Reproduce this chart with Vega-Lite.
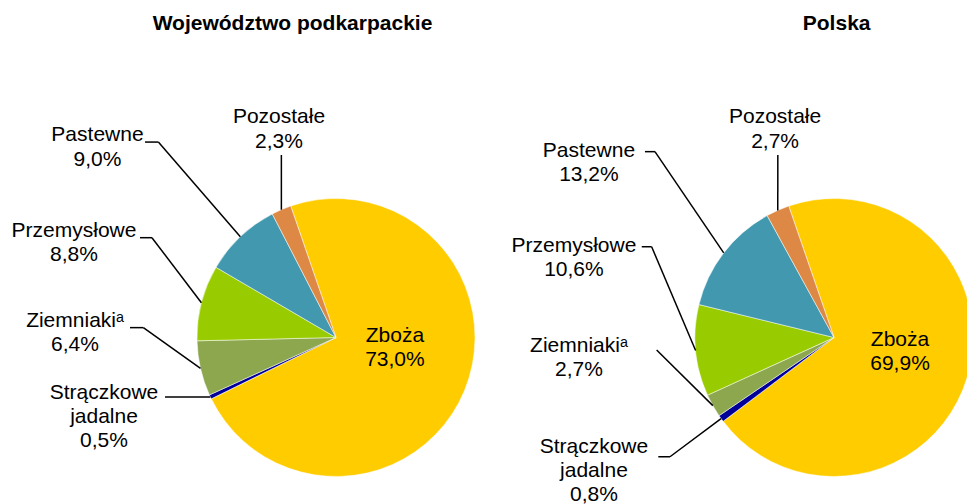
{
  "$schema": "https://vega.github.io/schema/vega-lite/v6.json",
  "padding": 0,
  "spacing": 0,
  "background": "white",
  "config": {"view": {"stroke": null}, "font": "Liberation Sans", "concat": {"spacing": 0}},
  "datasets": {
    "crops": [
      {"region": "Województwo podkarpackie", "crop": "Zboża", "value": 73.0, "order": 1},
      {"region": "Województwo podkarpackie", "crop": "Strączkowe jadalne", "value": 0.5, "order": 2},
      {"region": "Województwo podkarpackie", "crop": "Ziemniaki", "value": 6.4, "order": 3},
      {"region": "Województwo podkarpackie", "crop": "Przemysłowe", "value": 8.8, "order": 4},
      {"region": "Województwo podkarpackie", "crop": "Pastewne", "value": 9.0, "order": 5},
      {"region": "Województwo podkarpackie", "crop": "Pozostałe", "value": 2.3, "order": 6},
      {"region": "Polska", "crop": "Zboża", "value": 69.9, "order": 1},
      {"region": "Polska", "crop": "Strączkowe jadalne", "value": 0.8, "order": 2},
      {"region": "Polska", "crop": "Ziemniaki", "value": 2.7, "order": 3},
      {"region": "Polska", "crop": "Przemysłowe", "value": 10.6, "order": 4},
      {"region": "Polska", "crop": "Pastewne", "value": 13.2, "order": 5},
      {"region": "Polska", "crop": "Pozostałe", "value": 2.7, "order": 6}
    ],
    "labelsPK": [
      {"crop": "Zboża", "lines": ["Zboża", "73,0%"], "tx": 42.4, "ty": -3.2},
      {"crop": "Strączkowe jadalne", "lines": ["Strączkowe", "jadalne", "0,5%"], "tx": -166.9, "ty": -43.9, "sx": -123.0, "kx": -123.0, "ky": -42.8},
      {"crop": "Ziemniaki", "lines": ["Ziemniakiᵃ", "6,4%"], "tx": -187.8, "ty": 7.8, "sx": -148.2, "kx": -138.6, "ky": 7.1},
      {"crop": "Przemysłowe", "lines": ["Przemysłowe", "8,8%"], "tx": -188.5, "ty": 72.5, "sx": -141.0, "kx": -132.4, "ky": 71.8},
      {"crop": "Pastewne", "lines": ["Pastewne", "9,0%"], "tx": -171.6, "ty": 141.2, "sx": -137.4, "kx": -127.8, "ky": 140.6},
      {"crop": "Pozostałe", "lines": ["Pozostałe", "2,3%"], "tx": -41.0, "ty": 154.1, "sx": -39.3, "kx": -39.3, "ky": 131.3}
    ],
    "labelsPL": [
      {"crop": "Zboża", "lines": ["Zboża", "69,9%"], "tx": 47.5, "ty": -6.1},
      {"crop": "Strączkowe jadalne", "lines": ["Strączkowe", "jadalne", "0,8%"], "tx": -172.7, "ty": -82.9, "sx": -126.4, "kx": -118.0, "ky": -85.8},
      {"crop": "Ziemniaki", "lines": ["Ziemniakiᵃ", "2,7%"], "tx": -183.5, "ty": -10.2, "sx": -127.6, "kx": -127.6, "ky": -9.0},
      {"crop": "Przemysłowe", "lines": ["Przemysłowe", "10,6%"], "tx": -187.1, "ty": 61.7, "sx": -138.3, "kx": -131.2, "ky": 65.3},
      {"crop": "Pastewne", "lines": ["Pastewne", "13,2%"], "tx": -176.3, "ty": 130.1, "sx": -136.0, "kx": -128.8, "ky": 133.7},
      {"crop": "Pozostałe", "lines": ["Pozostałe", "2,7%"], "tx": -42.4, "ty": 154.1, "sx": -40.4, "kx": -40.4, "ky": 131.3}
    ]
  },
  "hconcat": [
    {
      "width": 498,
      "height": 504,
      "data": {"name": "crops"},
      "transform": [
        {"filter": {"field": "region", "equal": "Województwo podkarpackie"}},
        {"joinaggregate": [{"op": "sum", "field": "value", "as": "total"}]},
        {"window": [{"op": "sum", "field": "value", "as": "cum"}], "sort": [{"field": "order"}], "frame": [null, 0]},
        {"calculate": "(-19 + 360 * (datum.cum - datum.value / 2) / datum.total) * PI / 180", "as": "mid"},
        {"calculate": "100 * sin(datum.mid)", "as": "rim_x"},
        {"calculate": "100 * cos(datum.mid)", "as": "rim_y"}
      ],
      "layer": [
        {
          "mark": {"type": "arc", "outerRadius": 139, "stroke": "white", "strokeWidth": 0.5, "clip": true},
          "encoding": {
            "x": {"datum": 0, "type": "quantitative", "scale": {"domain": [-241.727, 116.547], "nice": false, "zero": false}, "axis": null},
            "y": {"datum": 0, "type": "quantitative", "scale": {"domain": [-119.784, 242.806], "nice": false, "zero": false}, "axis": null},
            "theta": {"field": "value", "type": "quantitative", "stack": true, "scale": {"range": [-0.33161, 5.95157]}},
            "color": {"field": "crop", "type": "nominal", "legend": null, "scale": {"domain": ["Zboża", "Strączkowe jadalne", "Ziemniaki", "Przemysłowe", "Pastewne", "Pozostałe"], "range": ["#FFCC00", "#000099", "#8DA74F", "#99CC00", "#4198AF", "#DD8844"]}},
            "order": {"field": "order", "type": "quantitative"}
          }
        },
        {
          "transform": [
            {"lookup": "crop", "from": {"data": {"name": "labelsPK"}, "key": "crop", "fields": ["sx", "kx", "ky"]}},
            {"filter": "isValid(datum.sx)"}
          ],
          "mark": {"type": "rule", "color": "black", "strokeWidth": 1.5},
          "encoding": {
            "x": {"field": "sx", "type": "quantitative", "scale": {"domain": [-241.727, 116.547], "nice": false, "zero": false}, "axis": null},
            "x2": {"field": "kx"},
            "y": {"field": "ky", "type": "quantitative", "scale": {"domain": [-119.784, 242.806], "nice": false, "zero": false}, "axis": null}
          }
        },
        {
          "transform": [
            {"lookup": "crop", "from": {"data": {"name": "labelsPK"}, "key": "crop", "fields": ["sx", "kx", "ky"]}},
            {"filter": "isValid(datum.sx)"}
          ],
          "mark": {"type": "rule", "color": "black", "strokeWidth": 1.5},
          "encoding": {
            "x": {"field": "kx", "type": "quantitative", "scale": {"domain": [-241.727, 116.547], "nice": false, "zero": false}, "axis": null},
            "x2": {"field": "rim_x"},
            "y": {"field": "ky", "type": "quantitative", "scale": {"domain": [-119.784, 242.806], "nice": false, "zero": false}, "axis": null},
            "y2": {"field": "rim_y"}
          }
        },
        {
          "data": {"name": "labelsPK"},
          "mark": {"type": "text", "font": "Liberation Sans", "fontSize": 21, "lineHeight": 24.3, "align": "center", "baseline": "alphabetic", "color": "black"},
          "encoding": {
            "x": {"field": "tx", "type": "quantitative", "scale": {"domain": [-241.727, 116.547], "nice": false, "zero": false}, "axis": null},
            "y": {"field": "ty", "type": "quantitative", "scale": {"domain": [-119.784, 242.806], "nice": false, "zero": false}, "axis": null},
            "text": {"field": "lines", "type": "nominal"}
          }
        },
        {
          "data": {"values": [{"title": "Województwo podkarpackie"}]},
          "mark": {"type": "text", "font": "Liberation Sans", "fontSize": 21, "fontWeight": "bold", "align": "center", "baseline": "alphabetic", "color": "black"},
          "encoding": {
            "x": {"datum": -31.3, "type": "quantitative", "scale": {"domain": [-241.727, 116.547], "nice": false, "zero": false}, "axis": null},
            "y": {"datum": 221.2, "type": "quantitative", "scale": {"domain": [-119.784, 242.806], "nice": false, "zero": false}, "axis": null},
            "text": {"field": "title", "type": "nominal"}
          }
        }
      ]
    },
    {
      "width": 469,
      "height": 504,
      "data": {"name": "crops"},
      "transform": [
        {"filter": {"field": "region", "equal": "Polska"}},
        {"joinaggregate": [{"op": "sum", "field": "value", "as": "total"}]},
        {"window": [{"op": "sum", "field": "value", "as": "cum"}], "sort": [{"field": "order"}], "frame": [null, 0]},
        {"calculate": "(-19 + 360 * (datum.cum - datum.value / 2) / datum.total) * PI / 180", "as": "mid"},
        {"calculate": "100 * sin(datum.mid)", "as": "rim_x"},
        {"calculate": "100 * cos(datum.mid)", "as": "rim_y"}
      ],
      "layer": [
        {
          "mark": {"type": "arc", "outerRadius": 139, "stroke": "white", "strokeWidth": 0.5, "clip": true},
          "encoding": {
            "x": {"datum": 0, "type": "quantitative", "scale": {"domain": [-241.727, 95.683], "nice": false, "zero": false}, "axis": null},
            "y": {"datum": 0, "type": "quantitative", "scale": {"domain": [-119.784, 242.806], "nice": false, "zero": false}, "axis": null},
            "theta": {"field": "value", "type": "quantitative", "stack": true, "scale": {"range": [-0.33161, 5.95157]}},
            "color": {"field": "crop", "type": "nominal", "legend": null, "scale": {"domain": ["Zboża", "Strączkowe jadalne", "Ziemniaki", "Przemysłowe", "Pastewne", "Pozostałe"], "range": ["#FFCC00", "#000099", "#8DA74F", "#99CC00", "#4198AF", "#DD8844"]}},
            "order": {"field": "order", "type": "quantitative"}
          }
        },
        {
          "transform": [
            {"lookup": "crop", "from": {"data": {"name": "labelsPL"}, "key": "crop", "fields": ["sx", "kx", "ky"]}},
            {"filter": "isValid(datum.sx)"}
          ],
          "mark": {"type": "rule", "color": "black", "strokeWidth": 1.5},
          "encoding": {
            "x": {"field": "sx", "type": "quantitative", "scale": {"domain": [-241.727, 95.683], "nice": false, "zero": false}, "axis": null},
            "x2": {"field": "kx"},
            "y": {"field": "ky", "type": "quantitative", "scale": {"domain": [-119.784, 242.806], "nice": false, "zero": false}, "axis": null}
          }
        },
        {
          "transform": [
            {"lookup": "crop", "from": {"data": {"name": "labelsPL"}, "key": "crop", "fields": ["sx", "kx", "ky"]}},
            {"filter": "isValid(datum.sx)"}
          ],
          "mark": {"type": "rule", "color": "black", "strokeWidth": 1.5},
          "encoding": {
            "x": {"field": "kx", "type": "quantitative", "scale": {"domain": [-241.727, 95.683], "nice": false, "zero": false}, "axis": null},
            "x2": {"field": "rim_x"},
            "y": {"field": "ky", "type": "quantitative", "scale": {"domain": [-119.784, 242.806], "nice": false, "zero": false}, "axis": null},
            "y2": {"field": "rim_y"}
          }
        },
        {
          "data": {"name": "labelsPL"},
          "mark": {"type": "text", "font": "Liberation Sans", "fontSize": 21, "lineHeight": 24.3, "align": "center", "baseline": "alphabetic", "color": "black"},
          "encoding": {
            "x": {"field": "tx", "type": "quantitative", "scale": {"domain": [-241.727, 95.683], "nice": false, "zero": false}, "axis": null},
            "y": {"field": "ty", "type": "quantitative", "scale": {"domain": [-119.784, 242.806], "nice": false, "zero": false}, "axis": null},
            "text": {"field": "lines", "type": "nominal"}
          }
        },
        {
          "data": {"values": [{"title": "Polska"}]},
          "mark": {"type": "text", "font": "Liberation Sans", "fontSize": 21, "fontWeight": "bold", "align": "center", "baseline": "alphabetic", "color": "black"},
          "encoding": {
            "x": {"datum": 1.9, "type": "quantitative", "scale": {"domain": [-241.727, 95.683], "nice": false, "zero": false}, "axis": null},
            "y": {"datum": 221.2, "type": "quantitative", "scale": {"domain": [-119.784, 242.806], "nice": false, "zero": false}, "axis": null},
            "text": {"field": "title", "type": "nominal"}
          }
        }
      ]
    }
  ]
}
